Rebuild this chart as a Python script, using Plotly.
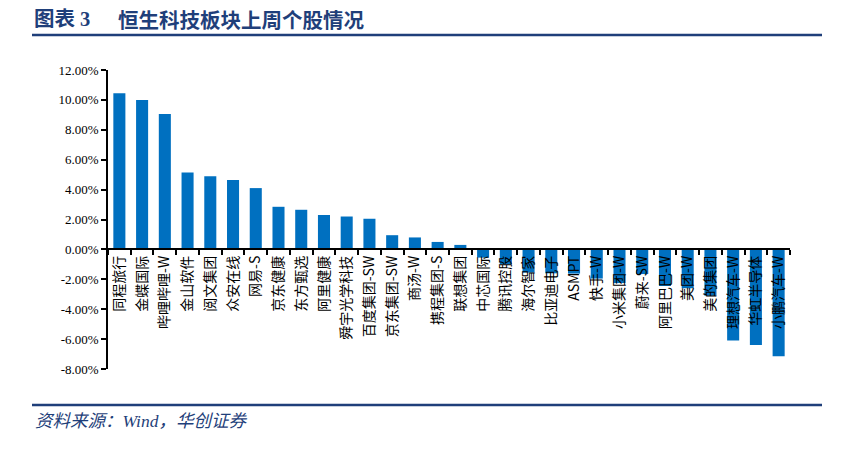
import plotly.graph_objects as go

categories = ["同程旅行", "金蝶国际", "哔哩哔哩-W", "金山软件", "阅文集团", "众安在线", "网易-S",
              "京东健康", "东方甄选", "阿里健康", "舜宇光学科技", "百度集团-SW", "京东集团-SW",
              "商汤-W", "携程集团-S", "联想集团", "中芯国际", "腾讯控股", "海尔智家", "比亚迪电子",
              "ASMPT", "快手-W", "小米集团-W", "蔚来-SW", "阿里巴巴-W", "美团-W", "美的集团",
              "理想汽车-W", "华虹半导体", "小鹏汽车-W"]
values = [10.45, 10.0, 9.05, 5.15, 4.9, 4.65, 4.1,
          2.85, 2.65, 2.3, 2.2, 2.05, 0.95,
          0.8, 0.5, 0.3, -0.55, -1.0, -1.55, -1.6,
          -1.62, -1.95, -2.25, -1.65, -2.45, -2.6, -3.1,
          -6.1, -6.4, -7.15]
y_tickvals = [12, 10, 8, 6, 4, 2, 0, -2, -4, -6, -8]
y_ticktext = ["12.00%", "10.00%", "8.00%", "6.00%", "4.00%", "2.00%", "0.00%",
              "-2.00%", "-4.00%", "-6.00%", "-8.00%"]

NAVY = "#1F3F7A"
FONT = "Liberation Serif, Noto Sans CJK SC, serif"

fig = go.Figure()
fig.add_trace(go.Bar(x=categories, y=values, marker=dict(color="#0070C0", line=dict(width=0))))

W, H = 846, 451
# screen-pixel plot box
SX0, SX1, SY0, SY1 = 108, 790, 70, 369
ml, mr, mt, mb = SX0, W - SX1, SY0, H - SY1

def px_x(x):
    return (x - SX0) / (SX1 - SX0)

def px_y(y):
    return (SY1 - y) / (SY1 - SY0)

fig.update_layout(
    width=W, height=H,
    margin=dict(l=ml, r=mr, t=mt, b=mb, autoexpand=False),
    plot_bgcolor="white", paper_bgcolor="white",
    showlegend=False,
    bargap=0.47,
    font=dict(family=FONT, color="black", size=12),
    xaxis=dict(
        type="category", range=[-0.5, len(categories) - 0.5],
        anchor="free", position=8 / 20,
        showline=True, linecolor="black", linewidth=1.5,
        ticks="outside", ticklen=5, tickcolor="black", tickwidth=1.5,
        tickson="boundaries", tickangle=-90,
        tickfont=dict(family="Noto Sans CJK SC, Liberation Serif", size=14, color="black"),
        showgrid=False, zeroline=False,
    ),
    yaxis=dict(
        range=[-8, 12], tickvals=y_tickvals, ticktext=y_ticktext,
        showline=True, linecolor="black", linewidth=1.5,
        ticks="outside", ticklen=5, tickcolor="black", tickwidth=1.5,
        tickfont=dict(family=FONT, size=13, color="black"),
        showgrid=False, zeroline=False,
    ),
)

fig.add_annotation(text="<b>图表 3</b>", xref="paper", yref="paper",
                   x=px_x(32), y=px_y(19), xanchor="left", yanchor="middle",
                   showarrow=False, font=dict(family="Liberation Serif, Noto Sans CJK SC", size=20.5, color=NAVY))
fig.add_annotation(text="<b>恒生科技板块上周个股情况</b>", xref="paper", yref="paper",
                   x=px_x(116), y=px_y(19), xanchor="left", yanchor="middle",
                   showarrow=False, font=dict(family="Noto Sans CJK SC", size=20.5, color=NAVY))
fig.add_annotation(text="<i>资料来源：Wind，华创证券</i>", xref="paper", yref="paper",
                   x=px_x(33), y=px_y(421), xanchor="left", yanchor="middle",
                   showarrow=False, font=dict(family="Liberation Serif, Noto Sans CJK SC", size=17.5, color=NAVY))

for yy in (35, 405):
    fig.add_shape(type="line", xref="paper", yref="paper",
                  x0=px_x(32), x1=px_x(822), y0=px_y(yy), y1=px_y(yy),
                  line=dict(color=NAVY, width=2.5))

fig.write_html("out.html", config={"displayModeBar": False},
               post_script="document.body.style.margin='0';")
